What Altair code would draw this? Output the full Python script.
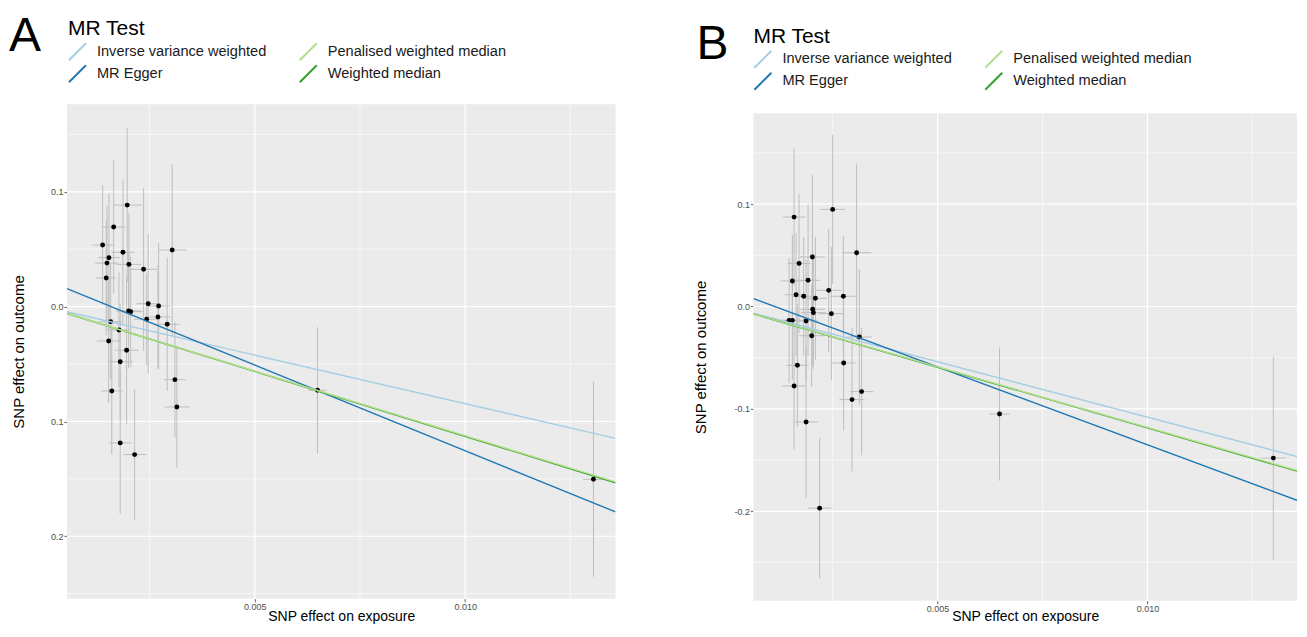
import altair as alt
import pandas as pd

FONT = "Liberation Sans"

# ---------------- data ----------------
# line drawing order (last on top)
methods = ["Inverse variance weighted", "MR Egger", "Weighted median", "Penalised weighted median"]
legend_order = ["Inverse variance weighted", "MR Egger", "Penalised weighted median", "Weighted median"]
legend_colors = ["#A6CEE3", "#1F78B4", "#B2DF8A", "#33A02C"]

# Panel A: SNP effects on exposure (bx) / outcome (by) with their error half-widths
a_bx = [0.001967, 0.001644, 0.001382, 0.001532, 0.001485, 0.001468, 0.001865, 0.002007,
        0.002356, 0.003036, 0.002466, 0.002713, 0.0020, 0.00205, 0.002428, 0.002698,
        0.002917, 0.001573, 0.00177, 0.001525, 0.001952, 0.0018, 0.0016, 0.0031,
        0.003147, 0.0018, 0.002143, 0.00649, 0.01305]
a_by = [0.0884, 0.0693, 0.0536, 0.0426, 0.0379, 0.0249, 0.0473, 0.0368,
        0.0325, 0.0493, 0.0025, 0.0005, -0.0038, -0.0044, -0.011, -0.009,
        -0.0154, -0.0131, -0.0204, -0.030, -0.038, -0.048, -0.0735, -0.0636,
        -0.0874, -0.1187, -0.1289, -0.0729, -0.1504]
a_sx = [0.00034, 0.00028, 0.00025, 0.00026, 0.00028, 0.00024, 0.00027, 0.00030,
        0.00032, 0.00034, 0.00028, 0.00027, 0.00030, 0.00030, 0.00030, 0.00030,
        0.00030, 0.00028, 0.00028, 0.00028, 0.00029, 0.00029, 0.00026, 0.00026,
        0.00030, 0.00028, 0.00027, 0.00022, 0.00024]
a_sy = [0.067, 0.058, 0.052, 0.056, 0.050, 0.050, 0.0635, 0.045,
        0.071, 0.075, 0.061, 0.055, 0.050, 0.048, 0.040, 0.045,
        0.058, 0.050, 0.050, 0.054, 0.064, 0.050, 0.055, 0.050,
        0.053, 0.062, 0.057, 0.055, 0.085]
a_slope = [-8.45, -14.91, -11.3, -11.25]      # in `methods` order
a_icpt = [0.0, 0.0236, 0.0, 0.0]
a_xdom = [0.000534, 0.013575]
a_ydom = [-0.25448, 0.17633]

# Panel B
b_bx = [0.001581, 0.0025, 0.003071, 0.0017, 0.002017, 0.00154, 0.001914, 0.001629,
        0.00181, 0.002088, 0.002405, 0.002755, 0.002024, 0.00204, 0.002469, 0.001462,
        0.00154, 0.001867, 0.002, 0.003136, 0.00166, 0.001581, 0.001867, 0.00219,
        0.002762, 0.002962, 0.00319, 0.006476, 0.013]
b_by = [0.0873, 0.0948, 0.0525, 0.0421, 0.0483, 0.0249, 0.0256, 0.0115,
        0.0100, 0.008, 0.0158, 0.010, -0.0027, -0.006, -0.007, -0.0135,
        -0.0135, -0.0141, -0.0285, -0.0298, -0.0574, -0.0776, -0.1127, -0.1969,
        -0.0551, -0.0909, -0.0831, -0.105, -0.148]
b_sx = [0.00027, 0.00029, 0.00035, 0.00027, 0.00030, 0.00028, 0.00028, 0.00027,
        0.00027, 0.00028, 0.00030, 0.00030, 0.00030, 0.00030, 0.00030, 0.00027,
        0.00027, 0.00028, 0.00030, 0.00030, 0.00027, 0.00028, 0.00028, 0.00028,
        0.00028, 0.00030, 0.00028, 0.00024, 0.00030]
b_sy = [0.067, 0.073, 0.087, 0.068, 0.080, 0.045, 0.074, 0.060,
        0.058, 0.060, 0.060, 0.059, 0.055, 0.055, 0.065, 0.061,
        0.058, 0.060, 0.050, 0.066, 0.060, 0.062, 0.074, 0.0685,
        0.066, 0.070, 0.062, 0.065, 0.099]
b_slope = [-10.8, -15.2, -11.85, -11.8]
b_icpt = [0.0, 0.017, 0.0, 0.0]
b_xdom = [0.000612, 0.013564]
b_ydom = [-0.28732, 0.18878]

x_major = [0.005, 0.010]
x_minor = [0.0025, 0.0075, 0.0125]
y_major = [-0.2, -0.1, 0.0, 0.1]
y_minor = [-0.25, -0.15, -0.05, 0.05, 0.15]

PANEL_BG = "#EBEBEB"


def panel(letter, bx, by, sx, sy, slopes, icpts, xdom, ydom, W, H, top, geo, ylabel_expr):
    # `top`: the panel starts `top` px below the top of the view
    xs = alt.Scale(domain=xdom, nice=False, zero=False)
    ys = alt.Scale(domain=ydom, nice=False, zero=False, range=[H, top])

    pts = pd.DataFrame({"bx": bx, "by": by, "sx": sx, "sy": sy})
    pts["xlo"] = pts.bx - pts.sx
    pts["xhi"] = pts.bx + pts.sx
    pts["ylo"] = pts.by - pts.sy
    pts["yhi"] = pts.by + pts.sy

    rows = []
    for m, s, c in zip(methods, slopes, icpts):
        for xv in xdom:
            rows.append({"method": m, "x": xv, "y": c + s * xv})
    lines = pd.DataFrame(rows)

    xaxis = alt.Axis(values=x_major, format=".3f", title="SNP effect on exposure",
                     grid=False, domain=False, ticks=True, tickSize=3, tickColor="#333333",
                     tickWidth=0.8, labelFontSize=9, labelColor="#4d4d4d", labelFont=FONT,
                     labelPadding=1, titleFont=FONT, titleFontSize=14,
                     titleFontWeight="normal", titleColor="black",
                     titleBaseline="alphabetic", titleY=geo["title_y"])
    yaxis = alt.Axis(values=y_major, labelExpr=ylabel_expr, title="SNP effect on outcome",
                     grid=False, domain=False, ticks=True, tickSize=3, tickColor="#333333",
                     tickWidth=0.8, labelFontSize=9, labelColor="#4d4d4d", labelFont=FONT,
                     labelPadding=1, titleFont=FONT, titleFontSize=15,
                     titleFontWeight="normal", titleColor="black",
                     titleBaseline="middle", titleX=geo["title_x"],
                     titleY=top + (H - top) / 2)

    def X(f):
        return alt.X(f, type="quantitative", scale=xs, axis=xaxis)

    def Y(f):
        return alt.Y(f, type="quantitative", scale=ys, axis=yaxis)

    one = pd.DataFrame({"k": [0]})
    box = alt.Chart(one).mark_rect(opacity=0).encode(
        x=alt.value(geo["box"][0]), x2=alt.value(geo["box"][2]),
        y=alt.value(geo["box"][1]), y2=alt.value(geo["box"][3]))
    bg = alt.Chart(one).mark_rect(color=PANEL_BG, opacity=1).encode(
        x=alt.value(0), x2=alt.value(W), y=alt.value(top), y2=alt.value(H))

    gx_minor = alt.Chart(pd.DataFrame({"v": x_minor})).mark_rule(
        color="white", strokeWidth=0.6).encode(x=X("v"), y=alt.value(top), y2=alt.value(H))
    gy_minor = alt.Chart(pd.DataFrame({"v": y_minor})).mark_rule(
        color="white", strokeWidth=0.6).encode(y=Y("v"))
    gx_major = alt.Chart(pd.DataFrame({"v": x_major})).mark_rule(
        color="white", strokeWidth=1.2).encode(x=X("v"), y=alt.value(top), y2=alt.value(H))
    gy_major = alt.Chart(pd.DataFrame({"v": y_major})).mark_rule(
        color="white", strokeWidth=1.2).encode(y=Y("v"))

    vbars = alt.Chart(pts).mark_rule(color="#BEBEBE", strokeWidth=1, clip=True).encode(
        x=X("bx"), y=Y("ylo"), y2="yhi:Q")
    hbars = alt.Chart(pts).mark_rule(color="#BEBEBE", strokeWidth=1, clip=True).encode(
        x=X("xlo"), x2="xhi:Q", y=Y("by"))
    dots = alt.Chart(pts).mark_circle(size=24, color="black", opacity=1).encode(
        x=X("bx"), y=Y("by"))

    legend = alt.Legend(
        orient="none", legendX=geo["legend"][0], legendY=geo["legend"][1], columns=2,
        title="MR Test", titleFont=FONT, titleFontSize=21, titleFontWeight="normal",
        titleColor="black", titlePadding=3, titleAnchor="start",
        labelFont=FONT, labelFontSize=14.6, labelColor="#1a1a1a", labelOffset=10,
        labelLimit=400, symbolType="M-1,1L1,-1", symbolSize=289, symbolStrokeWidth=2,
        symbolOpacity=1, columnPadding=29, rowPadding=-10)
    mlines = alt.Chart(lines).mark_line(strokeWidth=1.4, clip=True).encode(
        x=X("x"), y=Y("y"),
        color=alt.Color("method:N", sort=None,
                        scale=alt.Scale(domain=legend_order, range=legend_colors),
                        legend=legend))

    tag = alt.Chart(pd.DataFrame({"t": [letter]})).mark_text(
        align="left", baseline="alphabetic", fontSize=48, font=FONT, color="black").encode(
        text="t:N", x=alt.value(geo["letter"][0]), y=alt.value(geo["letter"][1]))

    return alt.layer(box, bg, gx_minor, gy_minor, gx_major, gy_major, vbars, hbars, dots,
                     mlines, tag).properties(width=W, height=H)


abs_expr = "format(abs(datum.value), '.1f')"
sign_expr = "(datum.value < 0 ? '-' : '') + format(abs(datum.value), '.1f')"

# both views start at the same height; panel B's grey area begins 9 px lower
geo_a = {"box": [-59, -112, 573, 519], "legend": [1, -86], "letter": [-58, -53],
         "title_x": -48, "title_y": 22}
geo_b = {"box": [-63, -112, 545, 519], "legend": [0, -78.5], "letter": [-57, -45],
         "title_x": -52.5, "title_y": 20}

pa = panel("A", a_bx, a_by, a_sx, a_sy, a_slope, a_icpt, a_xdom, a_ydom,
           549, 495, 0, geo_a, abs_expr)
pb = panel("B", b_bx, b_by, b_sx, b_sy, b_slope, b_icpt, b_xdom, b_ydom,
           544, 497, 9, geo_b, sign_expr)

chart = alt.hconcat(pa, pb, spacing=49).resolve_scale(
    color="independent", x="independent", y="independent"
).resolve_legend(color="independent").properties(
    padding={"left": -1, "top": -17, "right": 0, "bottom": 0}, background="white"
).configure_view(fill="transparent", stroke="transparent")

chart.save("out.html", embed_options={"renderer": "svg", "actions": False})
